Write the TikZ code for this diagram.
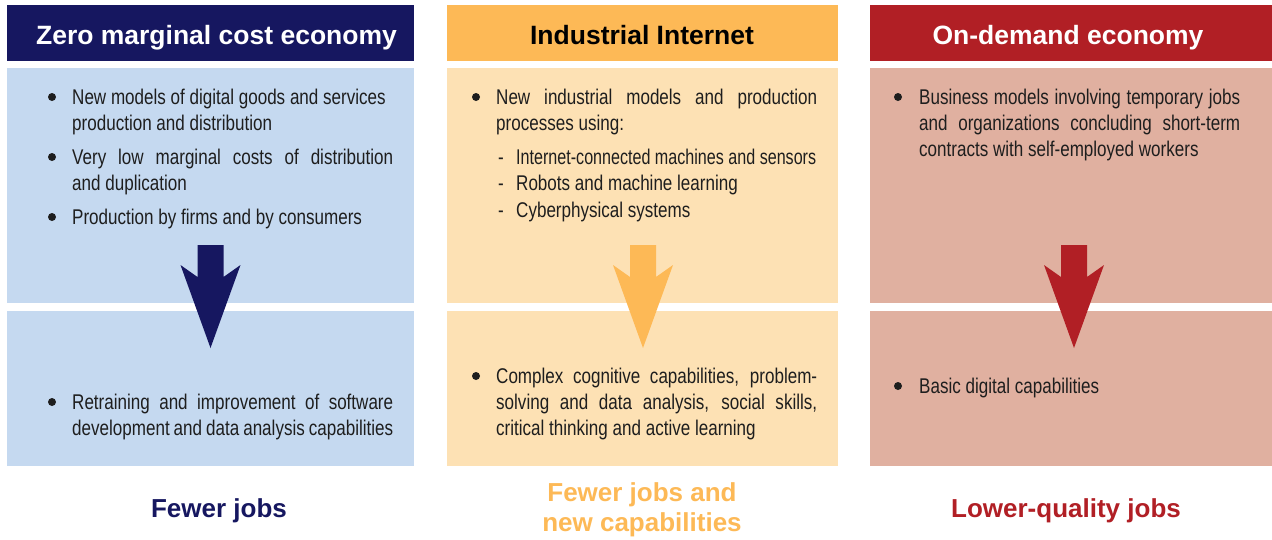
\documentclass[tikz,border=0pt]{standalone}
\usepackage{fontspec}
\usepackage{graphicx}
\setmainfont{Liberation Sans}
\newfontfamily\bodyfont{Liberation Sans}[FakeStretch=0.8]
\definecolor{navy}{RGB}{22,23,96}
\definecolor{blueL}{RGB}{197,217,240}
\definecolor{orng}{RGB}{253,185,86}
\definecolor{orngL}{RGB}{253,225,180}
\definecolor{redD}{RGB}{177,31,37}
\definecolor{redL}{RGB}{224,176,160}
\definecolor{txt}{RGB}{30,30,30}
\newcommand{\jl}[2][321pt]{\makebox[#1][s]{#2}}
\tikzset{
  panel/.style={draw=none, inner sep=0pt, minimum height=#1},
  hdrtext/.style={anchor=base, inner sep=0pt, text=white, font=\fontsize{26.5}{30}\selectfont\bfseries},
  line/.style={anchor=base west, inner sep=0pt, text=txt, font=\bodyfont\fontsize{21.3}{26}\selectfont},
  result/.style={anchor=base, inner sep=0pt, align=center, font=\fontsize{26}{30.5}\selectfont\bfseries},
  bul/.style={circle, fill=txt, inner sep=0pt, minimum size=8pt}
}
\begin{document}
\begin{tikzpicture}[x=1pt,y=-1pt]
\useasboundingbox (0,0) rectangle (1272,539);
\fill[white] (0,0) rectangle (1272,539);

% headers
\node[panel=56, minimum width=407, fill=navy] (h1) at (210.5,33) {};
\node[panel=56, minimum width=391, fill=orng] (h2) at (642.5,33) {};
\node[panel=56, minimum width=402, fill=redD] (h3) at (1071,33) {};
% upper bodies
\node[panel=235, minimum width=407, fill=blueL] (u1) at (210.5,185.5) {};
\node[panel=235, minimum width=391, fill=orngL] (u2) at (642.5,185.5) {};
\node[panel=235, minimum width=402, fill=redL] (u3) at (1071,185.5) {};
% lower bodies
\node[panel=155, minimum width=407, fill=blueL] (l1) at (210.5,388.5) {};
\node[panel=155, minimum width=391, fill=orngL] (l2) at (642.5,388.5) {};
\node[panel=155, minimum width=402, fill=redL] (l3) at (1071,388.5) {};

% header texts
\node[hdrtext] (t1) at (216.5,44) {Zero marginal cost economy};
\node[hdrtext, text=black] (t2) at (642,44) {Industrial Internet};
\node[hdrtext] (t3) at (1068,44) {On-demand economy};

% arrows
\foreach \c/\col in {210.5/navy, 643/orng, 1074/redD}{
  \fill[\col] (\c-13,245) -- (\c+13,245) -- (\c+13,277) -- (\c+30,265)
     -- (\c,348) -- (\c-30,265) -- (\c-13,277) -- cycle;
}

% column 1 upper
\node[bul] (b11) at (52,97) {};
\node[line] (a11) at (72,104) {New models of digital goods and services};
\node[line] (a12) at (72,130) {production and distribution};
\node[bul] (b12) at (52,157) {};
\node[line] (a13) at (72,164) {\jl{Very low marginal costs of distribution}};
\node[line] (a14) at (72,190) {and duplication};
\node[bul] (b13) at (52,217) {};
\node[line] (a15) at (72,224) {Production by firms and by consumers};
% column 1 lower
\node[bul] (b14) at (52,402) {};
\node[line] (a16) at (72,409) {\jl{Retraining and improvement of software}};
\node[line] (a17) at (72,435) {\jl{development and data analysis capabilities}};

% column 2 upper
\node[bul] (b21) at (476,97) {};
\node[line] (c11) at (496,104) {\jl{New industrial models and production}};
\node[line] (c12) at (496,130) {processes using:};
\node[line] (d1) at (498,164) {-};
\node[line] (c13) at (516,164) {\resizebox{300pt}{\height}{Internet-connected machines and sensors}};
\node[line] (d2) at (498,190) {-};
\node[line] (c14) at (516,190) {Robots and machine learning};
\node[line] (d3) at (498,217) {-};
\node[line] (c15) at (516,217) {Cyberphysical systems};
% column 2 lower
\node[bul] (b22) at (476,376) {};
\node[line] (c16) at (496,383) {\jl{Complex cognitive capabilities, problem-}};
\node[line] (c17) at (496,409) {\jl{solving and data analysis, social skills,}};
\node[line] (c18) at (496,435) {critical thinking and active learning};

% column 3 upper
\node[bul] (b31) at (898,97) {};
\node[line] (e11) at (919,104) {\jl{Business models involving temporary jobs}};
\node[line] (e12) at (919,130) {\jl{and organizations concluding short-term}};
\node[line] (e13) at (919,156) {contracts with self-employed workers};
% column 3 lower
\node[bul] (b32) at (898,386) {};
\node[line] (e14) at (919,393) {Basic digital capabilities};

% results
\node[result, text=navy] (r1) at (219,517) {Fewer jobs};
\node[result, text=orng] (r2a) at (642,501) {Fewer jobs and};
\node[result, text=orng] (r2b) at (642,531) {new capabilities};
\node[result, text=redD] (r3) at (1066,517) {Lower-quality jobs};
\end{tikzpicture}
\end{document}
